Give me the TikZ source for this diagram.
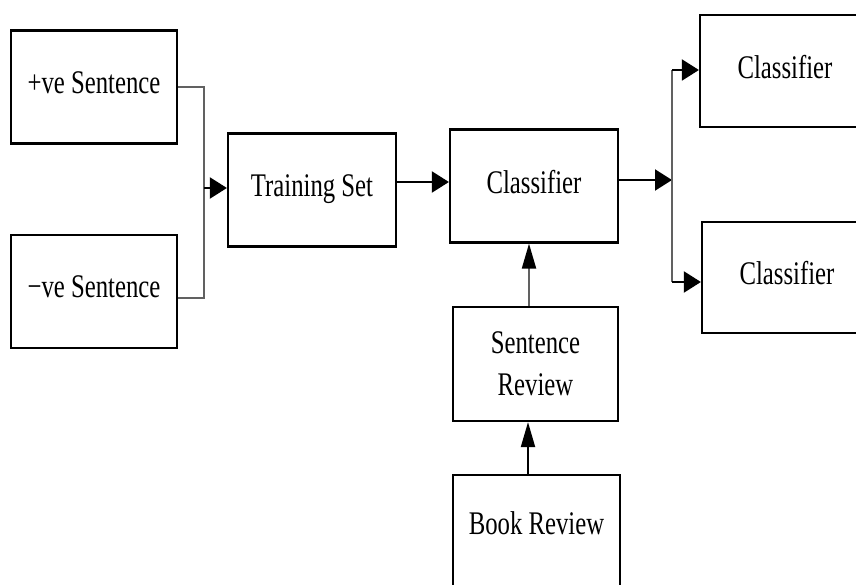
\documentclass[tikz,border=0pt]{standalone}
\usepackage{fontspec}
\setmainfont{Liberation Serif}[FakeStretch=0.75]
\usetikzlibrary{arrows.meta}
\tikzset{
  blk/.style={draw=black, line width=2.2pt, fill=white, inner sep=0pt,
    minimum width=#1, minimum height=113pt, font=\fontsize{33}{42}\selectfont,
    text depth=9pt, align=center},
  blk/.default=167pt,
  conn/.style={line width=2pt, black},
  gconn/.style={line width=2pt, black!62},
  harr/.style={-{Triangle[length=17pt,width=21pt,color=black]}},
  varr/.style={-{Triangle[length=25pt,width=14pt,color=black]}},
}
\begin{document}
\begin{tikzpicture}[x=1pt,y=-1pt]
\useasboundingbox (0,0) rectangle (856,585);
% boxes
\node[blk=166pt] (pos)   at (94,87)    {+ve Sentence};
\node[blk=166pt] (neg)   at (94,291.5) {\char"2212 ve Sentence};
\node[blk=168pt] (train) at (312,190)  {Training Set};
\node[blk=168pt] (clf)   at (534,186)  {Classifier};
\node[blk=170pt, minimum height=112pt] (c1) at (785,71)    {Classifier};
\node[blk=170pt, minimum height=111pt] (c2) at (787,277.5) {Classifier};
\node[blk=165pt, minimum height=114pt, text depth=0pt] (sr) at (535.5,364) {Sentence\\Review};
\node[blk=167pt, minimum height=114pt, text depth=18pt] (br) at (536.5,532) {Book Review};
% junction coordinates
\coordinate (jl) at (204,188);
\coordinate (jr) at (672,180);
\coordinate (jrt) at (672,70);
\coordinate (jrb) at (672,282);
% left merge
\draw[gconn] (pos.east) -| (jl);
\draw[gconn] ([yshift=-6.5pt]neg.east) -| (jl);
\draw[conn,harr] (jl) -- (train.west |- jl);
% training -> classifier
\draw[conn,harr] (train.east |- 0,182) -- (clf.west |- 0,182);
% classifier -> split
\draw[conn,harr] (clf.east |- jr) -- (jr);
\draw[gconn] (jrt) -- (jrb);
\draw[conn,harr] (jrt) -- (c1.west |- jrt);
\draw[conn,harr] (jrb) -- (c2.west |- jrb);
% vertical arrows
\draw[gconn,varr] (sr.north -| 529,0) -- (clf.south -| 529,0);
\draw[conn,varr] (br.north -| 528,0) -- (sr.south -| 528,0);
\end{tikzpicture}
\end{document}
